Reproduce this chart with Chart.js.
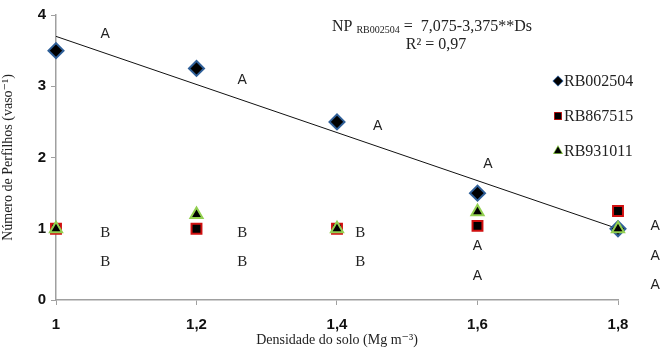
<!DOCTYPE html>
<html lang="pt">
<head>
  <meta charset="UTF-8">
  <title>Perfilhos x Densidade</title>
  <script src="https://cdn.jsdelivr.net/npm/chart.js"></script>
  <style>
    body { margin: 0; background: #fff; }
    #wrap { width: 662px; height: 352px; }
  </style>
</head>
<body>
<div id="wrap"><canvas id="chart" width="662" height="352"></canvas></div>
<script>
// densidade do solo (Mg m-3)
const densidades = [1, 1.2, 1.4, 1.6, 1.8];
const rb002504 = [3.5, 3.25, 2.5, 1.5, 1.0];
const rb867515 = [1.0, 1.0, 1.0, 1.04, 1.25];
const rb931011 = [1.0, 1.2, 1.0, 1.24, 1.0];

// regression from the figure: NP = 7,075 - 3,375 Ds
const coefA = 7.075;
const coefB = -3.375;

const yTicks = [0, 1, 2, 3, 4];
const xTicks = [1, 1.2, 1.4, 1.6, 1.8];

// letters of the mean comparison test
const letterX = [1.07, 1.265, 1.458, 1.615, 1.07, 1.07, 1.265, 1.265, 1.433, 1.433, 1.6, 1.6, 1.853, 1.853, 1.853];
const letterY = [3.73, 3.09, 2.44, 1.91, 0.94, 0.53, 0.94, 0.53, 0.94, 0.53, 0.76, 0.34, 1.04, 0.62, 0.21];
const letterTxt = ['A', 'A', 'A', 'A', 'B', 'B', 'B', 'B', 'B', 'B', 'A', 'A', 'A', 'A', 'A'];

const serif = '"Liberation Serif", "DejaVu Serif", serif';
const sans = '"Liberation Sans", Arial, sans-serif';

const toPoints = (vals) => densidades.map((d, i) => ({ x: d, y: vals[i] }));

const annotations = {
  id: 'annotations',
  afterDatasetsDraw(chart) {
    const ctx = chart.ctx;
    const xs = chart.scales.x, ys = chart.scales.y;
    ctx.save();
    ctx.fillStyle = '#222';
    ctx.textAlign = 'center';
    ctx.textBaseline = 'middle';
    letterTxt.forEach((t, i) => {
      ctx.font = t === 'A' ? '14px ' + sans : '15px ' + serif;
      ctx.fillText(t, xs.getPixelForValue(letterX[i]), ys.getPixelForValue(letterY[i]));
    });

    // equation
    ctx.fillStyle = '#222';
    ctx.textAlign = 'left';
    let ex = 332, ey = 27;
    ctx.font = '16px ' + serif;
    ctx.fillText('NP ', ex, ey);
    ex += ctx.measureText('NP ').width;
    ctx.font = '10px ' + serif;
    ctx.fillText('RB002504', ex, ey + 3);
    ex += ctx.measureText('RB002504').width;
    ctx.font = '16px ' + serif;
    ctx.fillText(' =  7,075-3,375**Ds', ex, ey);
    ctx.textAlign = 'center';
    ctx.fillText('R² = 0,97', 436, 45);

    // legend
    const items = [
      { label: 'RB002504', ds: 0 },
      { label: 'RB867515', ds: 1 },
      { label: 'RB931011', ds: 2 }
    ];
    items.forEach((it, i) => {
      const d = chart.data.datasets[it.ds];
      const cy = 81 + i * 35;
      ctx.fillStyle = '#000';
      ctx.strokeStyle = d.borderColor;
      ctx.lineWidth = 1.5;
      Chart.helpers.drawPoint(ctx, { pointStyle: d.pointStyle, radius: 4.5, borderWidth: 1.5 }, 558, cy);
      ctx.fill();
      ctx.fillStyle = '#222';
      ctx.textAlign = 'left';
      ctx.font = '16px ' + serif;
      ctx.fillText(it.label, 564, cy + 1);
    });
    ctx.restore();
  }
};

new Chart(document.getElementById('chart'), {
  type: 'scatter',
  data: {
    datasets: [
      {
        label: 'RB002504',
        data: toPoints(rb002504),
        pointStyle: 'rectRot',
        pointRadius: 7.5,
        backgroundColor: '#000',
        borderColor: '#2f5f98',
        borderWidth: 2,
        clip: false,
        order: 2
      },
      {
        label: 'RB867515',
        data: toPoints(rb867515),
        pointStyle: 'rect',
        pointRadius: 7,
        backgroundColor: '#000',
        borderColor: '#d01010',
        borderWidth: 2,
        clip: false,
        order: 3
      },
      {
        label: 'RB931011',
        data: toPoints(rb931011),
        pointStyle: 'triangle',
        pointRadius: 7,
        backgroundColor: '#000',
        borderColor: '#92d050',
        borderWidth: 2,
        clip: false,
        order: 1
      },
      {
        label: 'Linear',
        type: 'line',
        data: [densidades[0], densidades[densidades.length - 1]].map(d => ({ x: d, y: coefA + coefB * d })),
        borderColor: '#111',
        borderWidth: 1,
        pointRadius: 0,
        fill: false,
        clip: false,
        order: 4
      }
    ]
  },
  options: {
    responsive: false,
    animation: false,
    layout: { padding: { top: 15, right: 44, left: 0, bottom: 0 } },
    plugins: {
      legend: { display: false },
      tooltip: { enabled: false }
    },
    scales: {
      x: {
        type: 'linear',
        min: 1,
        max: 1.8,
        afterFit: (s) => { s.height = 52; },
        afterBuildTicks: (s) => { s.ticks = xTicks.map(v => ({ value: v })); },
        ticks: {
          color: '#111',
          font: { family: sans, size: 15, weight: 'bold' },
          padding: 11,
          callback: (v) => String(Math.round(v * 10) / 10).replace('.', ',')
        },
        grid: { drawOnChartArea: false, tickLength: 5, color: '#a0a0a0' },
        border: { color: '#a0a0a0', width: 1.5 },
        title: {
          display: true,
          text: 'Densidade do solo (Mg m\u207B\u00B3)',
          color: '#222',
          font: { family: serif, size: 14 },
          padding: { top: 0, bottom: 3 }
        }
      },
      y: {
        min: 0,
        max: 4,
        afterFit: (s) => { s.width = 56; },
        afterBuildTicks: (s) => { s.ticks = yTicks.map(v => ({ value: v })); },
        ticks: {
          color: '#111',
          font: { family: sans, size: 15, weight: 'bold' },
          padding: 5
        },
        grid: { drawOnChartArea: false, tickLength: 5, color: '#a0a0a0' },
        border: { color: '#a0a0a0', width: 1.5 },
        title: {
          display: true,
          text: 'Número de Perfilhos (vaso\u207B\u00B9)',
          color: '#222',
          font: { family: serif, size: 14 },
          padding: { top: 0, bottom: 0 }
        }
      }
    }
  },
  plugins: [annotations]
});
</script>
</body>
</html>
